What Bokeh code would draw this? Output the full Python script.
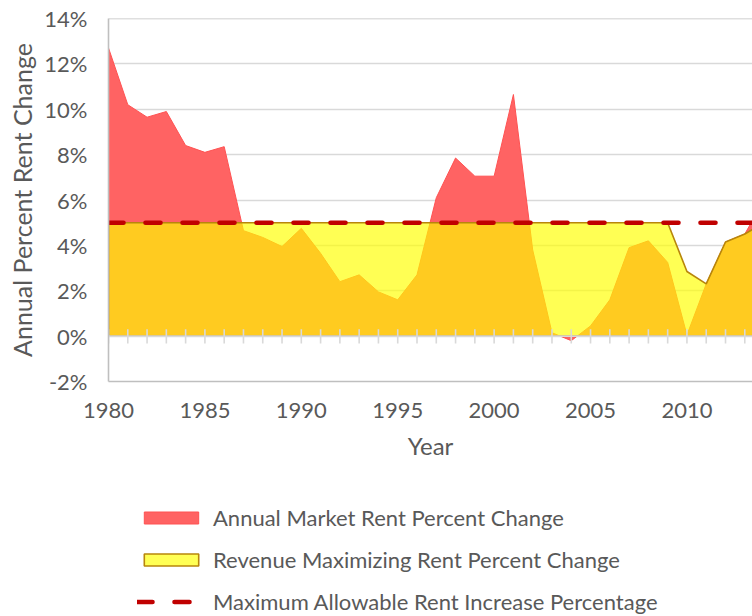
from bokeh.plotting import figure
from bokeh.layouts import column
from bokeh.models import (Range1d, FixedTicker, PrintfTickFormatter, Legend,
                          LegendItem, Span)
from bokeh.embed import file_html
from bokeh.resources import INLINE

# ---- data -------------------------------------------------------------
years = [1980, 1981, 1982, 1983, 1984, 1985, 1986, 1987, 1988, 1989,
         1990, 1991, 1992, 1993, 1994, 1995, 1996, 1997, 1998, 1999,
         2000, 2001, 2002, 2003, 2004, 2005, 2006, 2007, 2008, 2009,
         2010, 2011, 2012, 2013, 2014]
market_rent_change = [12.7, 10.2, 9.65, 9.9, 8.4, 8.1, 8.35, 4.65, 4.35, 3.95,
                      4.75, 3.65, 2.4, 2.7, 1.95, 1.6, 2.7, 6.1, 7.85, 7.05,
                      7.05, 10.65, 3.8, 0.15, -0.2, 0.45, 1.6, 3.9, 4.2, 3.25,
                      0.05, 2.3, 4.15, 4.5, 6.0]
revenue_max_change = [5.0, 5.0, 5.0, 5.0, 5.0, 5.0, 5.0, 5.0, 5.0, 5.0,
                      5.0, 5.0, 5.0, 5.0, 5.0, 5.0, 5.0, 5.0, 5.0, 5.0,
                      5.0, 5.0, 5.0, 5.0, 5.0, 5.0, 5.0, 5.0, 5.0, 5.0,
                      2.85, 2.3, 4.15, 4.5, 5.0]
max_allowable = [5.0, 5.0, 5.0, 5.0, 5.0, 5.0, 5.0, 5.0, 5.0, 5.0,
                 5.0, 5.0, 5.0, 5.0, 5.0, 5.0, 5.0, 5.0, 5.0, 5.0,
                 5.0, 5.0, 5.0, 5.0, 5.0, 5.0, 5.0, 5.0, 5.0, 5.0,
                 5.0, 5.0, 5.0, 5.0, 5.0]
y_ticks = [-2, 0, 2, 4, 6, 8, 10, 12, 14]
x_ticks = [1980, 1985, 1990, 1995, 2000, 2005, 2010]
series_labels = ["Annual Market Rent Percent Change",
                 "Revenue Maximizing Rent Percent Change",
                 "Maximum Allowable Rent Increase Percentage"]

FONT = "Lato"
TXT = "#595959"
RED_FILL, RED_LINE = "#FF6363", "#FF5252"
YEL_FILL, YEL_LINE = "#FFFF00", "#B8860B"
DASH_COL = "#C00000"

base = [0.0 for _ in years]
xs = years + years[::-1]


def add_series(fig):
    r = fig.patch(xs, market_rent_change + base[::-1],
                  fill_color=RED_FILL, line_color=RED_LINE, line_width=1)
    y = fig.patch(xs, revenue_max_change + base[::-1],
                  fill_color=YEL_FILL, fill_alpha=0.67,
                  line_color=YEL_LINE, line_width=1.6)
    return r, y


def add_dash(fig):
    return fig.line(years, max_allowable, line_color=DASH_COL, line_width=4.6,
                    line_dash="15 22", line_cap="round")


# ---- main chart -------------------------------------------------------
p = figure(width=752, height=470,
           x_range=Range1d(1980, 2013.4), y_range=Range1d(-2, 14),
           output_backend="svg", toolbar_location=None,
           min_border_left=108, min_border_right=0, min_border_top=18,
           min_border_bottom=89)
p.outline_line_color = None

red, yellow = add_series(p)

# horizontal axis line at 0 with crossing tick marks
p.add_layout(Span(location=0, dimension="width", line_color="#D9D9D9",
                  line_width=1.6, level="glyph"))
p.segment(x0=years, y0=[0.3 for _ in years], x1=years,
          y1=[-0.33 for _ in years], line_color="#D9D9D9", line_width=1.6)

dash = add_dash(p)

# top border of the plot area
p.add_layout(Span(location=14, dimension="width", line_color="#BFBFBF",
                  line_width=1.6))

p.xgrid.visible = False
p.ygrid.ticker = FixedTicker(ticks=y_ticks)
p.ygrid.grid_line_color = "#D9D9D9"
p.ygrid.grid_line_width = 1.5

for ax in (p.xaxis[0], p.yaxis[0]):
    ax.axis_line_color = "#BFBFBF"
    ax.axis_line_width = 1.6
    ax.major_tick_line_color = None
    ax.minor_tick_line_color = None
    ax.major_tick_out = 0
    ax.major_tick_in = 0
    ax.major_label_text_font = FONT
    ax.major_label_text_font_size = "22px"
    ax.major_label_text_color = TXT
    ax.axis_label_text_font = FONT
    ax.axis_label_text_font_style = "normal"
    ax.axis_label_text_color = TXT

p.xaxis.ticker = FixedTicker(ticks=x_ticks)
p.xaxis.formatter = PrintfTickFormatter(format="%d")
p.xaxis.axis_label = "Year"
p.xaxis.axis_label_text_font_size = "24px"
p.xaxis.major_label_standoff = 21
p.xaxis.axis_label_standoff = 10

p.yaxis.ticker = FixedTicker(ticks=y_ticks)
p.yaxis.formatter = PrintfTickFormatter(format="%d%%")
p.yaxis.axis_label = "Annual Percent Rent Change"
p.yaxis.axis_label_text_font_size = "25px"
p.yaxis.major_label_standoff = 21
p.yaxis.axis_label_standoff = 4

# ---- legend strip below the chart ------------------------------------
lg = figure(width=752, height=146, x_range=Range1d(0, 1), y_range=Range1d(0, 1),
            x_axis_type=None, y_axis_type=None,
            output_backend="svg", toolbar_location=None,
            min_border_left=108, min_border_top=5, min_border_right=0,
            min_border_bottom=0)
lg.outline_line_color = None
lg.grid.visible = False
lred, lyellow = add_series(lg)   # out of this strip's view; feeds the legend
ldash = add_dash(lg)

legend = Legend(items=[LegendItem(label=series_labels[0], renderers=[lred]),
                       LegendItem(label=series_labels[1], renderers=[lyellow]),
                       LegendItem(label=series_labels[2], renderers=[ldash])],
                location="top_left", orientation="vertical",
                glyph_width=68, glyph_height=15, label_standoff=8,
                spacing=15, padding=0, margin=29,
                border_line_color=None, background_fill_alpha=0,
                label_text_font=FONT, label_text_font_size="22px",
                label_text_color=TXT)
lg.add_layout(legend)

page = column(p, lg, spacing=0)
open("out.html", "w").write(file_html(page, INLINE))
